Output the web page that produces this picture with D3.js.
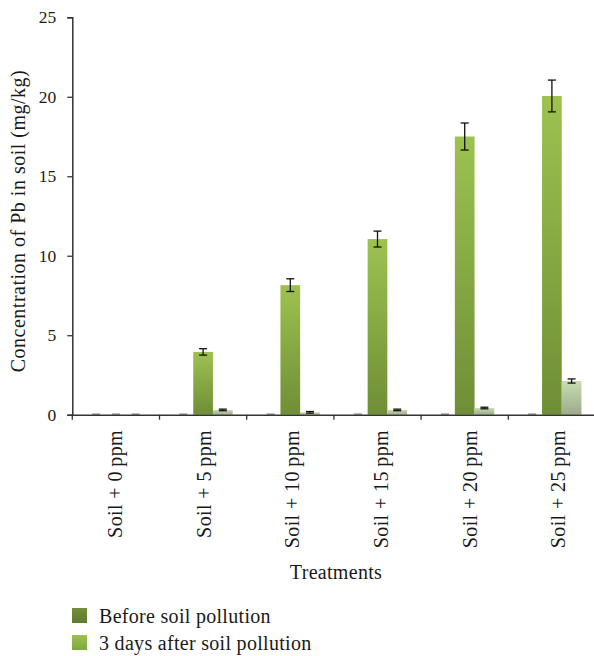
<!DOCTYPE html>
<html><head><meta charset="utf-8">
<script src="https://cdn.jsdelivr.net/npm/d3@7"></script>
<style>body{margin:0;background:#fff}svg{display:block}text{font-family:"Liberation Serif","DejaVu Serif",serif;fill:#1a1a1a}</style>
</head><body><svg id="c" width="594" height="656"></svg>
<script>
const categories = ["Soil + 0\u2009ppm","Soil + 5\u2009ppm","Soil + 10\u2009ppm","Soil + 15\u2009ppm","Soil + 20\u2009ppm","Soil + 25\u2009ppm"];
const seriesKeys = ["before","after3","later"];
const beforeValues = [0,0,0,0,0,0];
const after3Values = [0,3.95,8.15,11.05,17.5,20.05];
const after3Errors = [0,0.2,0.4,0.5,0.85,1.0];
const laterValues = [0,0.3,0.15,0.3,0.42,2.12];
const laterErrors = [0,0.05,0.05,0.05,0.05,0.13];
const yTicks = [0,5,10,15,20,25];
const legendLabels = ["Before soil pollution","3 days after soil pollution"];

const svg = d3.select("#c");
const defs = svg.append("defs");
function grad(id, c1, c2){
  const g = defs.append("linearGradient").attr("id",id).attr("x1",0).attr("y1",0).attr("x2",0).attr("y2",1);
  g.append("stop").attr("offset","0%").attr("stop-color",c1);
  g.append("stop").attr("offset","100%").attr("stop-color",c2);
}
grad("gMain","#9dc250","#6f8e36");
grad("gLight","#c8ddb1","#9daa8b");
grad("gLeg1","#728f3a","#5e7a2e");
grad("gLeg2","#9cc14f","#80a641");

const x0 = 72.3, band = 87.2;
const x = d3.scaleBand().domain(categories).range([x0, x0 + band*categories.length]).padding(0);
const xs = d3.scaleBand().domain(seriesKeys).range([0, x.bandwidth()]).paddingInner(0).paddingOuter(0.713);
const y = d3.scaleLinear().domain([0,25]).range([414.7,17.3]);

const data = categories.map((c,i)=>({cat:c, before:beforeValues[i], after3:after3Values[i], after3e:after3Errors[i], later:laterValues[i], latere:laterErrors[i]}));

const g = svg.append("g");
const fills = {before:"url(#gLeg1)", after3:"url(#gMain)", later:"url(#gLight)"};
const errs = {after3:"after3e", later:"latere"};
data.forEach(d=>{
  seriesKeys.forEach(k=>{
    const v = d[k];
    const bx = x(d.cat) + xs(k), bw = xs.bandwidth();
    if (v > 0) {
      g.append("rect").attr("x",bx).attr("width",bw).attr("y",y(v)).attr("height",y(0)-y(v)).attr("fill",fills[k]);
    } else {
      g.append("line").attr("x1",bx+bw/2-4).attr("x2",bx+bw/2+4).attr("y1",y(0)-0.5).attr("y2",y(0)-0.5)
        .attr("stroke","#a8a8a8").attr("stroke-width",2);
    }
  });
});
data.forEach(d=>{
  Object.keys(errs).forEach(k=>{
    const v = d[k], e = d[errs[k]];
    if (v <= 0) return;
    const cx = x(d.cat) + xs(k) + xs.bandwidth()/2;
    const eg = g.append("g").attr("stroke","#111").attr("stroke-width",1.3);
    eg.append("line").attr("x1",cx).attr("x2",cx).attr("y1",y(v+e)).attr("y2",y(v-e));
    eg.append("line").attr("x1",cx-4).attr("x2",cx+4).attr("y1",y(v+e)).attr("y2",y(v+e));
    eg.append("line").attr("x1",cx-4).attr("x2",cx+4).attr("y1",y(v-e)).attr("y2",y(v-e));
  });
});

const yAxis = svg.append("g").attr("transform",`translate(${x0},0)`)
  .call(d3.axisLeft(y).tickValues(yTicks).tickSize(5).tickPadding(11).tickFormat(d3.format("d")));
yAxis.selectAll("text").style("font-size","17.5px").attr("fill","#1a1a1a");
const xAxis = svg.append("g").attr("transform",`translate(0,${y(0)})`)
  .call(d3.axisBottom(x).tickValues([]).tickSizeOuter(0));
xAxis.selectAll(".tick").remove();
const bounds = categories.map(c=>x(c)).concat([x0 + band*categories.length]);
svg.append("g").selectAll("line").data(bounds).join("line")
  .attr("x1",d=>d).attr("x2",d=>d).attr("y1",y(0)).attr("y2",y(0)+5).attr("stroke","#333").attr("stroke-width",1.3);
svg.selectAll(".domain").attr("stroke","#333").attr("stroke-width",1.5);
yAxis.selectAll(".tick line").attr("stroke","#333").attr("stroke-width",1.3);

svg.append("g").selectAll("text").data(categories).join("text")
  .attr("transform",(d,i)=>`translate(${x(d)+x.bandwidth()/2-1+i*1.5},430) rotate(-90)`)
  .attr("text-anchor","end").attr("dy","0.35em").style("font-size","20px").style("letter-spacing","0.4px").text(d=>d);

svg.append("text").attr("x",336).attr("y",579).attr("text-anchor","middle").style("font-size","20px").style("letter-spacing","0.3px").text("Treatments");
svg.append("text").attr("transform","translate(18,221) rotate(-90)").attr("text-anchor","middle").attr("dy","0.35em")
  .style("font-size","20px").style("letter-spacing","0.5px").text("Concentration of Pb in soil (mg/kg)");

const leg = svg.append("g");
legendLabels.forEach((l,i)=>{
  leg.append("rect").attr("x",72).attr("y",608+i*27).attr("width",15).attr("height",15).attr("fill",i===0?"url(#gLeg1)":"url(#gLeg2)");
  leg.append("text").attr("x",99).attr("y",623+i*27).style("font-size","20px").style("letter-spacing","0.3px").text(l);
});
</script></body></html>
